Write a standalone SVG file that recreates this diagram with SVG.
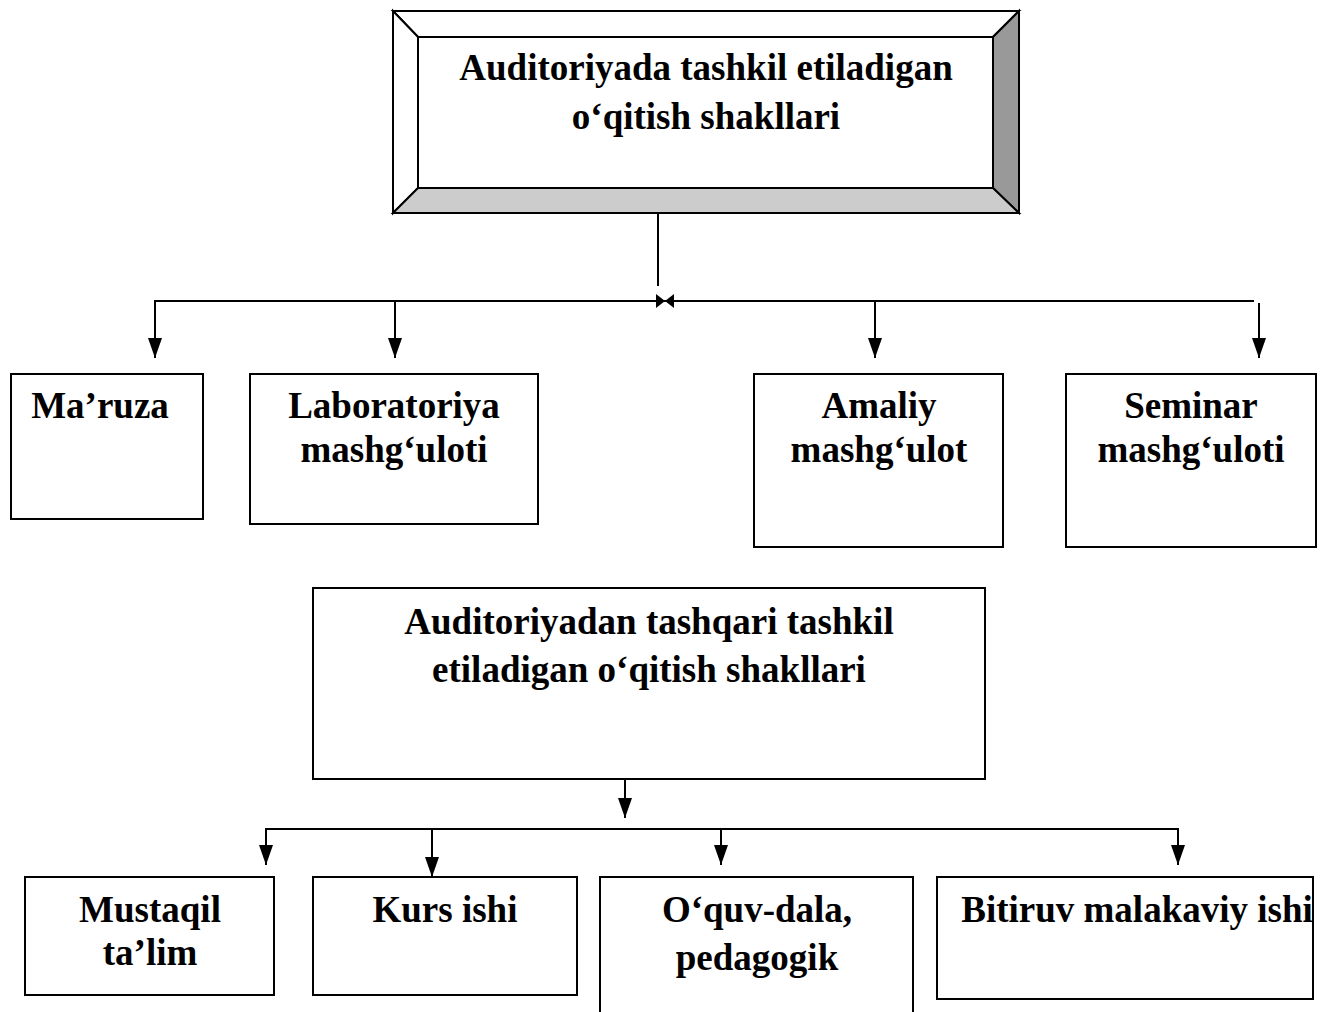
<svg xmlns="http://www.w3.org/2000/svg" width="1344" height="1012" viewBox="0 0 1344 1012">
<style>
.box{fill:#fff;stroke:#000;stroke-width:2}
.t{font-family:"Liberation Serif","Times New Roman",serif;font-weight:bold;font-size:37px;fill:#000;text-anchor:middle}
.ln{fill:none;stroke:#000;stroke-width:2}
</style>
<defs>
<marker id="ah" markerWidth="20" markerHeight="14" refX="20" refY="7" orient="auto" markerUnits="userSpaceOnUse" viewBox="0 0 20 14">
<path d="M0,0 L20,7 L0,14 Z" fill="#000"/>
</marker>
</defs>
<rect width="1344" height="1012" fill="#fff"/>

<g id="top">
<polygon points="393,11 1019,11 993,37 418,37" fill="#fff" stroke="#000" stroke-width="2"/>
<polygon points="393,11 418,37 418,188 393,213" fill="#fff" stroke="#000" stroke-width="2"/>
<polygon points="1019,11 1019,213 993,188 993,37" fill="#999" stroke="#000" stroke-width="2"/>
<polygon points="393,213 418,188 993,188 1019,213" fill="#ccc" stroke="#000" stroke-width="2"/>
<rect x="418" y="37" width="575" height="151" fill="#fff" stroke="#000" stroke-width="2"/>
<text class="t" x="706" y="80">Auditoriyada tashkil etiladigan</text>
<text class="t" x="706" y="129">o‘qitish shakllari</text>
</g>

<g id="connectors">
<line class="ln" x1="658" y1="213" x2="658" y2="286"/>
<line class="ln" x1="154" y1="301" x2="1254" y2="301"/>
<polygon points="656,294 665,301 656,308" fill="#000"/>
<polygon points="674,294 665,301 674,308" fill="#000"/>
<line class="ln" x1="155" y1="300" x2="155" y2="358" marker-end="url(#ah)"/>
<line class="ln" x1="395" y1="300" x2="395" y2="358" marker-end="url(#ah)"/>
<line class="ln" x1="875" y1="300" x2="875" y2="358" marker-end="url(#ah)"/>
<line class="ln" x1="1259" y1="303" x2="1259" y2="358" marker-end="url(#ah)"/>

<line class="ln" x1="625" y1="779" x2="625" y2="818" marker-end="url(#ah)"/>
<line class="ln" x1="265" y1="829" x2="1179" y2="829"/>
<line class="ln" x1="266" y1="828" x2="266" y2="865" marker-end="url(#ah)"/>
<line class="ln" x1="432" y1="828" x2="432" y2="877" marker-end="url(#ah)"/>
<line class="ln" x1="721" y1="828" x2="721" y2="865" marker-end="url(#ah)"/>
<line class="ln" x1="1178" y1="828" x2="1178" y2="865" marker-end="url(#ah)"/>
</g>

<g id="maruza">
<rect class="box" x="11" y="374" width="192" height="145"/>
<text class="t" x="100" y="418">Ma’ruza</text>
</g>
<g id="laboratoriya">
<rect class="box" x="250" y="374" width="288" height="150"/>
<text class="t" x="394" y="418">Laboratoriya</text>
<text class="t" x="394" y="462">mashg‘uloti</text>
</g>
<g id="amaliy">
<rect class="box" x="754" y="374" width="249" height="173"/>
<text class="t" x="879" y="418">Amaliy</text>
<text class="t" x="879" y="462">mashg‘ulot</text>
</g>
<g id="seminar">
<rect class="box" x="1066" y="374" width="250" height="173"/>
<text class="t" x="1191" y="418">Seminar</text>
<text class="t" x="1191" y="462">mashg‘uloti</text>
</g>

<g id="tashqari">
<rect class="box" x="313" y="588" width="672" height="191"/>
<text class="t" x="649" y="634">Auditoriyadan tashqari tashkil</text>
<text class="t" x="649" y="682">etiladigan o‘qitish shakllari</text>
</g>

<g id="mustaqil">
<rect class="box" x="25" y="877" width="249" height="118"/>
<text class="t" x="150" y="922">Mustaqil</text>
<text class="t" x="150" y="965">ta’lim</text>
</g>
<g id="kurs">
<rect class="box" x="313" y="877" width="264" height="118"/>
<text class="t" x="445" y="922">Kurs ishi</text>
</g>
<g id="oquv">
<path class="ln" d="M600,1013 V877 H913 V1013"/>
<text class="t" x="757" y="922">O‘quv-dala,</text>
<text class="t" x="757" y="970">pedagogik</text>
</g>
<g id="bitiruv">
<rect class="box" x="937" y="877" width="376" height="122"/>
<text class="t" x="1137" y="922">Bitiruv malakaviy ishi</text>
</g>
</svg>
